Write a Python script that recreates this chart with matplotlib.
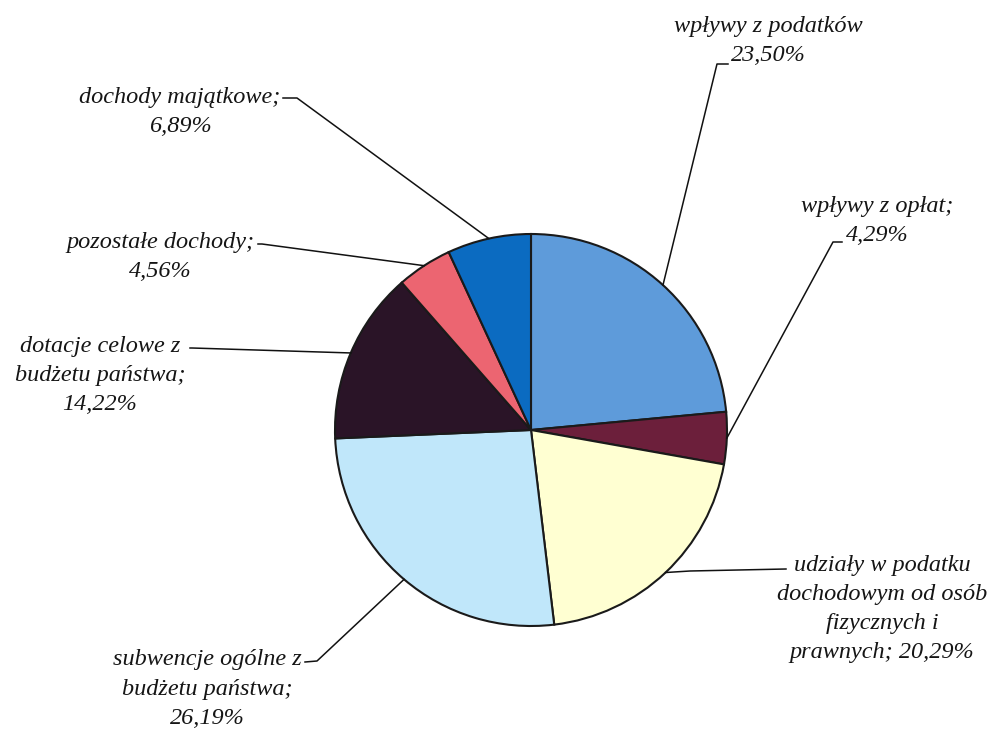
import numpy as np
import matplotlib.pyplot as plt

labels = [
    "wpływy z podatków\n23,50%",
    "wpływy z opłat;\n4,29%",
    "udziały w podatku\ndochodowym od osób\nfizycznych i\nprawnych; 20,29%",
    "subwencje ogólne z\nbudżetu państwa;\n26,19%",
    "dotacje celowe z\nbudżetu państwa;\n14,22%",
    "pozostałe dochody;\n4,56%",
    "dochody majątkowe;\n6,89%",
]
values = [23.50, 4.29, 20.29, 26.19, 14.22, 4.56, 6.89]
colors = ["#5E9BDA", "#6C1F3B", "#FFFFD2", "#C0E7FA", "#2A1427", "#EC6571", "#0B6BC1"]

# layout in pixel coords: text centre, elbow of leader, end of tick next to text
text_pos = [(768, 41), (877, 221), (882, 609), (207, 689), (100, 375), (160, 257), (180, 112)]
elbows = [(717, 64), (833, 242), (690, 571), (317, 661), (192, 348), (262, 244), (297, 98)]
ticks = [(728, 64), (842, 242), (786, 569), (305, 662), (190, 348), (258, 244), (283, 98)]

W, H = 991, 729
fig = plt.figure(figsize=(W / 100, H / 100), dpi=100)
ax = fig.add_axes([0, 0, 1, 1])

cx, cy, r = 531, 430, 196
# y axis is flipped below, so start at -90 and go counterclockwise in data
wedges, _ = ax.pie(values, colors=colors, startangle=-90, counterclock=True,
                   center=(cx, cy), radius=r, frame=True,
                   wedgeprops=dict(edgecolor="#1a1a1a", linewidth=1.5))
ax.set_xlim(0, W)
ax.set_ylim(H, 0)
ax.axis("off")

for w, lab, tp, el, tk in zip(wedges, labels, text_pos, elbows, ticks):
    mid = np.deg2rad((w.theta1 + w.theta2) / 2)
    px = cx + r * np.cos(mid)
    py = cy + r * np.sin(mid)
    ax.plot([px, el[0], tk[0]], [py, el[1], tk[1]], color="#111111", lw=1.1)
    ax.text(tp[0], tp[1], lab, ha="center", va="center", fontsize=17.5,
            family="Liberation Serif", style="italic", linespacing=1.5,
            color="#151515")

fig.savefig("out.png", dpi=100)
